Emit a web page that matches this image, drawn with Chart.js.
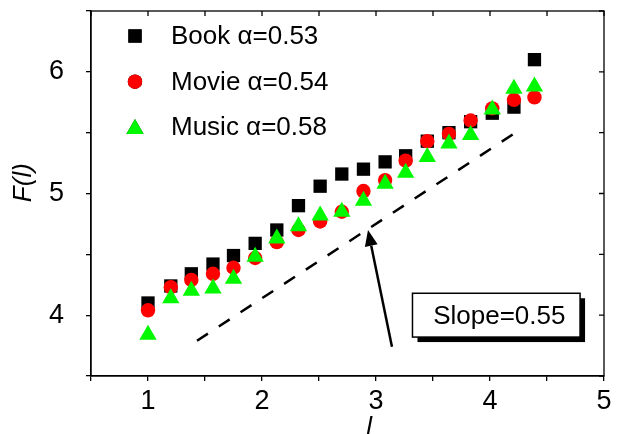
<!DOCTYPE html>
<html>
<head>
<meta charset="utf-8">
<script src="https://cdn.jsdelivr.net/npm/chart.js@4"></script>
<style>
    html, body { margin: 0; padding: 0; background: #fff; }
    #wrap { width: 618px; height: 434px; }
</style>
</head>
<body>
<div id="wrap"><canvas id="fluctChart"></canvas></div>
<script>
// window size l (log axis) and fluctuation F(l) for each category
const lValues = [1.00, 1.20, 1.38, 1.57, 1.75, 1.94, 2.13, 2.32, 2.51, 2.70, 2.89, 3.08, 3.26, 3.45, 3.64, 3.83, 4.02, 4.21, 4.39];
const bookF  = [4.10, 4.24, 4.34, 4.42, 4.49, 4.59, 4.70, 4.90, 5.06, 5.16, 5.20, 5.26, 5.31, 5.43, 5.50, 5.59, 5.66, 5.71, 6.10];
const movieF = [4.04, 4.23, 4.29, 4.34, 4.39, 4.47, 4.60, 4.70, 4.77, 4.85, 5.02, 5.11, 5.27, 5.43, 5.49, 5.60, 5.70, 5.77, 5.79];
const musicF = [3.84, 4.14, 4.20, 4.22, 4.30, 4.48, 4.63, 4.73, 4.82, 4.85, 4.94, 5.08, 5.17, 5.30, 5.41, 5.48, 5.69, 5.86, 5.88];
const seriesLabels = ['Book α=0.53', 'Movie α=0.54', 'Music α=0.58'];

// guide line (slope 0.55) and the arrow pointing at it
const fitX = [1.43, 4.24];
const fitY = [3.79, 5.51];
const arrowX = [3.14, 2.93];
const arrowY = [3.74, 4.70];
const slopeText = 'Slope=0.55';

// axes
const xMajorTicks = [1, 2, 3, 4, 5];
const yMajorTicks = [4, 5, 6];

const FONT = "'Liberation Sans', Arial, sans-serif";

function toPoints(xs, ys) {
    return xs.map((x, i) => ({ x: x, y: ys[i] }));
}

// Full box frame with inward ticks on top and right
const framePlugin = {
    id: 'frame',
    afterDraw(chart) {
        const ctx = chart.ctx;
        const a = chart.chartArea;
        const xs = chart.scales.x;
        const ys = chart.scales.y;
        ctx.save();
        ctx.strokeStyle = '#000';
        ctx.lineWidth = 1.3;
        ctx.strokeRect(a.left, a.top, a.right - a.left, a.bottom - a.top);
        ctx.beginPath();
        xs.ticks.forEach(t => {
            const px = xs.getPixelForValue(t.value);
            ctx.moveTo(px, a.top);
            ctx.lineTo(px, a.top + 5);
        });
        ys.ticks.forEach(t => {
            const py = ys.getPixelForValue(t.value);
            ctx.moveTo(a.right, py);
            ctx.lineTo(a.right - 5, py);
        });
        ctx.stroke();
        ctx.restore();
    }
};

// Legend inside the plot, arrow and the slope label box
const annotatePlugin = {
    id: 'annotate',
    afterDatasetsDraw(chart) {
        const ctx = chart.ctx;
        const xs = chart.scales.x;
        const ys = chart.scales.y;
        ctx.save();

        // legend
        const rowBase = [43.5, 89.5, 135];
        const markerY = [36, 81.7, 129];
        [0, 1, 2].forEach(i => {
            const ds = chart.data.datasets[i];
            Chart.helpers.drawPoint(ctx, {
                pointStyle: ds.pointStyle,
                radius: ds.pointRadius,
                rotation: 0,
                borderWidth: 0
            }, 135, markerY[i]);
            ctx.fillStyle = ds.backgroundColor;
            ctx.fill();
            ctx.fillStyle = '#000';
            ctx.font = '26px ' + FONT;
            ctx.textAlign = 'left';
            ctx.textBaseline = 'alphabetic';
            ctx.fillText(ds.label, 171, rowBase[i]);
        });

        // arrow
        const x0 = xs.getPixelForValue(arrowX[0]), y0 = ys.getPixelForValue(arrowY[0]);
        const x1 = xs.getPixelForValue(arrowX[1]), y1 = ys.getPixelForValue(arrowY[1]);
        const ang = Math.atan2(y1 - y0, x1 - x0);
        const headLen = 16, headW = 6.5;
        const bx = x1 - headLen * Math.cos(ang), by = y1 - headLen * Math.sin(ang);
        ctx.strokeStyle = '#000';
        ctx.lineWidth = 2.5;
        ctx.beginPath();
        ctx.moveTo(x0, y0);
        ctx.lineTo(bx, by);
        ctx.stroke();
        ctx.fillStyle = '#000';
        ctx.beginPath();
        ctx.moveTo(x1, y1);
        ctx.lineTo(bx + headW * Math.sin(ang), by - headW * Math.cos(ang));
        ctx.lineTo(bx - headW * Math.sin(ang), by + headW * Math.cos(ang));
        ctx.closePath();
        ctx.fill();

        // slope box with drop shadow
        const bl = xs.getPixelForValue(3.32), br = xs.getPixelForValue(4.79);
        const bt = ys.getPixelForValue(4.18), bb = ys.getPixelForValue(3.82);
        ctx.fillStyle = '#000';
        ctx.fillRect(bl + 5, bt + 5, br - bl, bb - bt);
        ctx.fillStyle = '#fff';
        ctx.fillRect(bl, bt, br - bl, bb - bt);
        ctx.lineWidth = 1.5;
        ctx.strokeRect(bl, bt, br - bl, bb - bt);
        ctx.fillStyle = '#000';
        ctx.font = '26px ' + FONT;
        ctx.textAlign = 'center';
        ctx.textBaseline = 'alphabetic';
        ctx.fillText(slopeText, (bl + br) / 2 + 3, bb - 13);

        ctx.restore();
    }
};

const ctx = document.getElementById('fluctChart');
new Chart(ctx, {
    type: 'scatter',
    data: {
        datasets: [
            {
                label: seriesLabels[0],
                data: toPoints(lValues, bookF),
                pointStyle: 'rect',
                pointRadius: 9.4,
                backgroundColor: '#000000',
                borderWidth: 0,
                order: 3
            },
            {
                label: seriesLabels[1],
                data: toPoints(lValues, movieF),
                pointStyle: 'circle',
                pointRadius: 7.2,
                backgroundColor: '#ff0000',
                borderWidth: 0,
                order: 2
            },
            {
                label: seriesLabels[2],
                data: toPoints(lValues, musicF),
                pointStyle: 'triangle',
                pointRadius: 10,
                backgroundColor: '#00f800',
                borderWidth: 0,
                order: 1
            },
            {
                type: 'line',
                label: 'fit',
                data: toPoints(fitX, fitY),
                borderColor: '#000',
                borderWidth: 2.5,
                borderDash: [13, 13],
                pointRadius: 0,
                fill: false,
                order: 4
            }
        ]
    },
    options: {
        responsive: true,
        maintainAspectRatio: false,
        animation: false,
        events: [],
        layout: {
            padding: { top: 11, right: 14, left: 0, bottom: 0 }
        },
        plugins: {
            legend: { display: false },
            tooltip: { enabled: false }
        },
        scales: {
            x: {
                type: 'linear',
                min: 0.5,
                max: 5,
                afterFit: scale => {
                    scale.height = 58;
                    scale.paddingLeft = 0;
                    scale.paddingRight = 0;
                },
                ticks: {
                    stepSize: 0.5,
                    autoSkip: false,
                    maxRotation: 0,
                    padding: 4,
                    color: '#000',
                    font: { family: FONT, size: 27 },
                    callback: v => xMajorTicks.includes(v) ? String(v) : ''
                },
                grid: { drawOnChartArea: false, tickLength: 5, color: '#000', lineWidth: 1.3 },
                border: { display: true, color: '#000', width: 1.3 },
                title: {
                    display: true,
                    text: '      l',
                    color: '#000',
                    font: { family: FONT, size: 26, style: 'italic' },
                    padding: { top: 0, bottom: -9 }
                }
            },
            y: {
                type: 'linear',
                min: 3.5,
                max: 6.5,
                afterFit: scale => {
                    scale.width = 91;
                    scale.paddingTop = 0;
                    scale.paddingBottom = 0;
                },
                ticks: {
                    stepSize: 0.5,
                    autoSkip: false,
                    padding: 22,
                    color: '#000',
                    font: { family: FONT, size: 27 },
                    callback: v => yMajorTicks.includes(v) ? String(v) : ''
                },
                grid: { drawOnChartArea: false, tickLength: 5, color: '#000', lineWidth: 1.3 },
                border: { display: true, color: '#000', width: 1.3 },
                title: {
                    display: true,
                    text: '   F(l)',
                    color: '#000',
                    font: { family: FONT, size: 26, style: 'italic' },
                    padding: { top: 8, bottom: 0 }
                }
            }
        }
    },
    plugins: [framePlugin, annotatePlugin]
});
</script>
</body>
</html>
